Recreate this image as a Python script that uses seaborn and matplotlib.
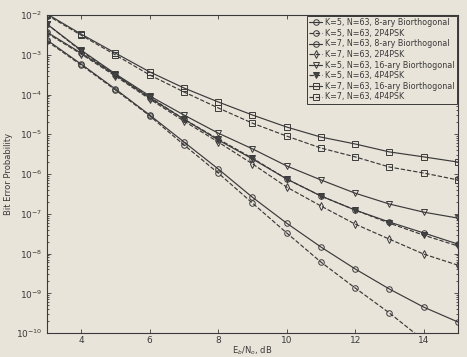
import numpy as np
import pandas as pd
import matplotlib
matplotlib.use('Agg')
import matplotlib.pyplot as plt
import seaborn as sns

# Eb/No points (dB)
ebno = [3, 4, 5, 6, 7, 8, 9, 10, 11, 12, 13, 14, 15]

# bit error probability
k5_8ary = [2.35e-3, 5.8e-4, 1.37e-4, 3.05e-5, 6.4e-6, 1.34e-6, 2.6e-7, 5.8e-8, 1.46e-8, 4.1e-9, 1.28e-9, 4.5e-10, 1.9e-10]
k5_2p4psk = [2.2e-3, 5.5e-4, 1.3e-4, 2.9e-5, 5.4e-6, 1.06e-6, 1.86e-7, 3.3e-8, 6.1e-9, 1.36e-9, 3.2e-10, 6.6e-11, 1.6e-11]
k7_8ary = [3.7e-3, 1.1e-3, 3.1e-4, 8.2e-5, 2.4e-5, 7.2e-6, 2.4e-6, 7.5e-7, 2.8e-7, 1.24e-7, 6.2e-8, 3.3e-8, 1.73e-8]
k7_2p4psk = [3.5e-3, 1.04e-3, 2.9e-4, 7.7e-5, 2.15e-5, 6.4e-6, 1.8e-6, 4.7e-7, 1.57e-7, 5.5e-8, 2.3e-8, 9.7e-9, 5.1e-9]
k5_16ary = [5.9e-3, 1.3e-3, 3.3e-4, 9.2e-5, 3.05e-5, 1.07e-5, 4.3e-6, 1.6e-6, 7.1e-7, 3.3e-7, 1.76e-7, 1.1e-7, 7.8e-8]
k5_4p4psk = [5.9e-3, 1.24e-3, 3.1e-4, 8.6e-5, 2.4e-5, 7.6e-6, 2.5e-6, 7.5e-7, 2.8e-7, 1.24e-7, 5.8e-8, 2.9e-8, 1.55e-8]
k7_16ary = [1.06e-2, 3.3e-3, 1.1e-3, 3.7e-4, 1.46e-4, 6.5e-5, 3.05e-5, 1.52e-5, 8.5e-6, 5.7e-6, 3.6e-6, 2.7e-6, 2.0e-6]
k7_4p4psk = [1.0e-2, 3.1e-3, 9.9e-4, 3.1e-4, 1.16e-4, 4.6e-5, 1.9e-5, 9.0e-6, 4.5e-6, 2.7e-6, 1.5e-6, 1.06e-6, 7.1e-7]

labels = ['K=5, N=63, 8-ary Biorthogonal', 'K=5, N=63, 2P4PSK',
          'K=7, N=63, 8-ary Biorthogonal', 'K=7, N=63, 2P4PSK',
          'K=5, N=63, 16-ary Biorthogonal', 'K=5, N=63, 4P4PSK',
          'K=7, N=63, 16-ary Biorthogonal', 'K=7, N=63, 4P4PSK']
series = [k5_8ary, k5_2p4psk, k7_8ary, k7_2p4psk, k5_16ary, k5_4p4psk, k7_16ary, k7_4p4psk]
markers = ['o', 'o', 'o', 'd', 'v', 'v', 's', 's']
styles = ['-', '--', '-', '--', '-', '--', '-', '--']
fills = ['none', 'none', 'none', 'none', 'none', '#444444', 'none', 'none']

sns.set_style('ticks')
paper = '#e9e4da'
ink = '#3a3a3a'
plt.rcParams['font.family'] = ['DejaVu Sans']

fig = plt.figure(figsize=(4.67, 3.57), dpi=100, facecolor=paper)
ax = fig.add_axes([0.1006, 0.067, 0.880, 0.891])
ax.set_facecolor(paper)

for vals, lab, m, ls, fc in zip(series, labels, markers, styles, fills):
    df = pd.DataFrame({'ebno': ebno, 'pb': vals})
    sns.lineplot(data=df, x='ebno', y='pb', ax=ax, color=ink, linestyle=ls,
                 linewidth=0.85, marker=m, markersize=4, markerfacecolor=fc,
                 markeredgecolor=ink, markeredgewidth=0.7, label=lab)

ax.set_yscale('log')
ax.set_xlim(3, 15)
ax.set_ylim(1e-10, 1e-2)
ax.set_xticks([4, 6, 8, 10, 12, 14])
ax.set_yticks([10.0 ** -k for k in range(2, 11)])
ax.yaxis.set_minor_locator(matplotlib.ticker.LogLocator(base=10, subs=np.arange(2, 10)))
ax.yaxis.set_minor_formatter(matplotlib.ticker.NullFormatter())
ax.tick_params(which='both', direction='in', top=True, right=True, colors=ink,
               labelsize=6.5, width=0.6)
ax.tick_params(which='major', length=3)
ax.tick_params(which='minor', length=1.5)
ax.tick_params(axis='x', pad=2)
for s in ax.spines.values():
    s.set_color(ink)
    s.set_linewidth(0.8)

ax.set_xlabel('E$_b$/N$_o$, dB', fontsize=6, color=ink, labelpad=0)
ax.set_ylabel('Bit Error Probability', fontsize=6, color=ink, labelpad=2)

leg = ax.legend(loc='upper right', fontsize=5.8, frameon=True, fancybox=False,
                edgecolor=ink, facecolor=paper, framealpha=1, handlelength=1.6,
                handletextpad=0.4, borderpad=0.3, labelspacing=0.2,
                borderaxespad=0.1)
leg.get_frame().set_linewidth(0.7)
for t in leg.get_texts():
    t.set_color(ink)

fig.savefig('out.png', dpi=100, facecolor=paper)
